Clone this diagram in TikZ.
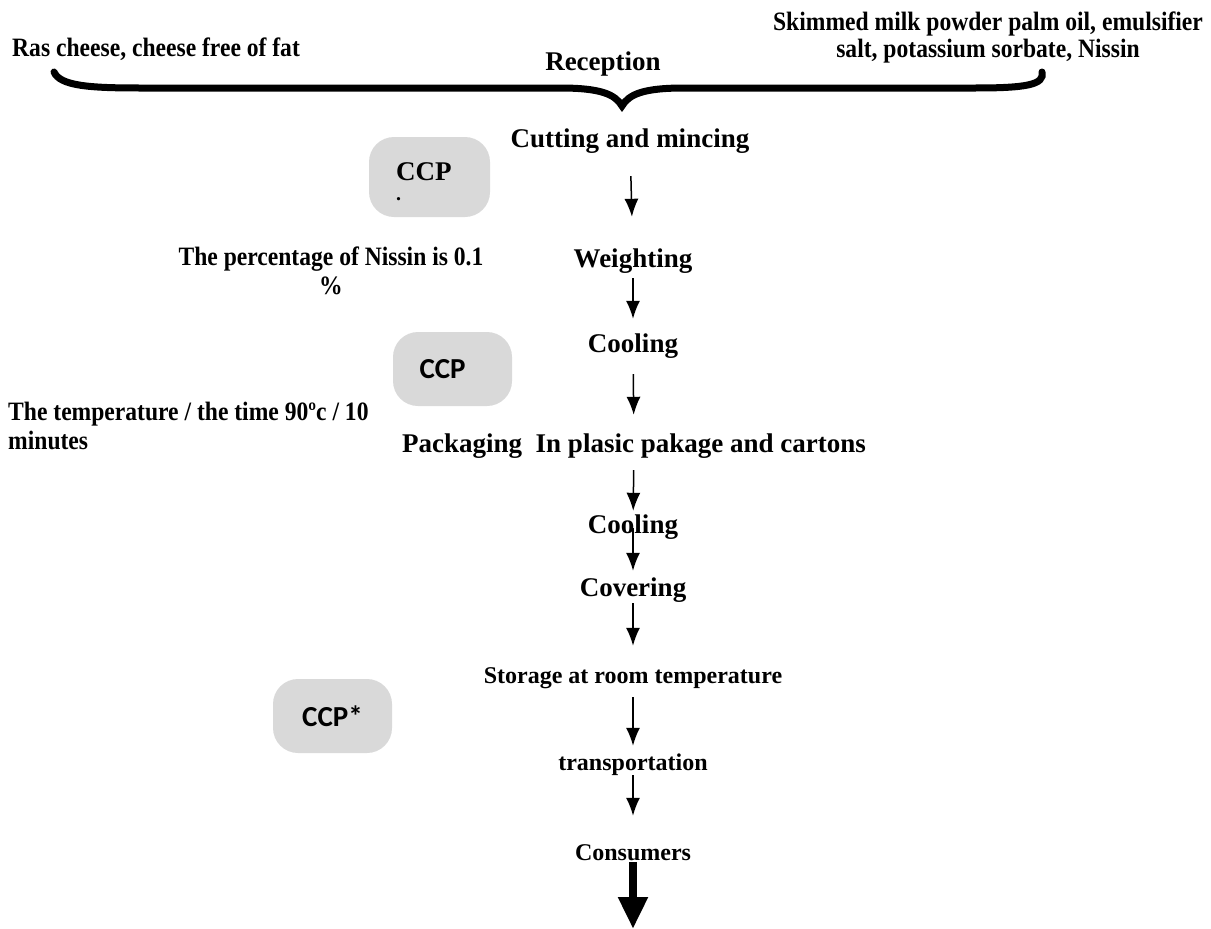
\documentclass[tikz,border=0pt]{standalone}
\usepackage{fontspec}
\setmainfont{Liberation Serif}
\newfontfamily\notefont{Liberation Serif}[FakeStretch=0.89]
\newfontfamily\ccpfont{Carlito}
\usepackage{tikz}
\usetikzlibrary{arrows.meta}

\definecolor{ccpgray}{HTML}{D9D9D9}

\tikzset{
  stage/.style={font=\bfseries\fontsize{27}{30}\selectfont, inner sep=0pt,
    anchor=base, text height=18pt, text depth=6pt},
  smallstage/.style={stage, font=\bfseries\fontsize{24}{27}\selectfont,
    text height=16pt, text depth=5pt},
  note/.style={font=\notefont\bfseries\fontsize{26.5}{29}\selectfont, inner sep=0pt},
  ccpbox/.style={fill=ccpgray, rounded corners=25pt, minimum width=119pt,
    minimum height=74pt, inner sep=0pt},
  flow/.style={-{Latex[length=18pt,width=14pt]}, line width=1.5pt},
  bigflow/.style={-{Triangle[length=32pt,width=28pt]}, line width=8pt},
}

\begin{document}
\begin{tikzpicture}[x=1pt, y=-1pt]
    \useasboundingbox (0,0) rectangle (1211,929);

    % raw materials
    \node[note, anchor=base west] (ras) at (12,56) {Ras cheese, cheese free of fat};
    \node[note, align=center, anchor=base, font=\notefont\bfseries\fontsize{26.5}{27}\selectfont]
      (ingr) at (988,57)
      {Skimmed milk powder palm oil, emulsifier\\salt, potassium sorbate, Nissin};
    \node[stage] (recv) at (603,70) {Reception};

    % the brace
    \draw[line width=7pt, line cap=round]
      (54,72) .. controls (60,86) and (90,88) .. (140,88) -- (560,88)
      .. controls (600,88) and (615,94) .. (622,106)
      .. controls (629,94) and (644,88) .. (684,88) -- (975,88)
      .. controls (1025,88) and (1045,85) .. (1042,72);

    % steps
    \node[stage] (cut) at (630,147) {Cutting and mincing};
    \node[stage] (weigh) at (633,267) {Weighting};
    \node[stage] (coolA) at (633,352) {Cooling};
    \node[stage] (pack) at (634,452) {Packaging\ \ In plasic pakage and cartons};
    \node[stage] (coolB) at (633,533) {Cooling};
    \node[stage] (cover) at (633,596) {Covering};
    \node[smallstage] (store) at (633,683) {Storage at room temperature};
    \node[smallstage] (trans) at (633,770) {transportation};
    \node[smallstage] (cons) at (633,860) {Consumers};
    \coordinate (out) at (633,929);

    % flow
    \draw[flow, shorten <=23pt, shorten >=32pt] (cut) -- (weigh);
    \draw[flow, shorten <=5pt, shorten >=15pt] (weigh) -- (coolA);
    \draw[flow, shorten <=16pt, shorten >=19pt] (coolA) -- (pack);
    \draw[flow, shorten <=12pt, shorten >=4pt] (pack) -- (coolB);
    \draw[flow, shorten <=-11pt, shorten >=7pt] (coolB) -- (cover);
    \draw[flow, shorten <=1pt, shorten >=21pt] (cover) -- (store);
    \draw[flow, shorten <=9pt, shorten >=8pt] (store) -- (trans);
    \draw[flow, shorten >=28pt] (trans) -- (cons);
    \draw[bigflow, shorten <=-3pt] (cons) -- (out);

    % critical control points
    \node[ccpbox, minimum width=121pt, minimum height=80pt] (ccpA) at (429.5,177) {};
    \node[inner sep=0pt, font=\bfseries\fontsize{27}{30}\selectfont, align=left, anchor=base west]
      (ccpAt) at (396,200) {CCP\\[-10pt]\fontsize{20}{20}\selectfont.};
    \node[ccpbox, font=\ccpfont\bfseries\fontsize{29}{30}\selectfont,
      text width=66pt, align=left] (ccpB) at (452.5,369) {CCP};
    \node[ccpbox, font=\ccpfont\bfseries\fontsize{29}{30}\selectfont] (ccpC) at (332.5,716) {CCP*};

    % notes
    \node[note, align=center, anchor=base] (nissin) at (331,294)
      {The percentage of Nissin is 0.1\\\%};
    \node[note, align=left, anchor=base west] (temp) at (8,449)
      {The temperature / the time 90ºc / 10\\minutes};
  \end{tikzpicture}
\end{document}
